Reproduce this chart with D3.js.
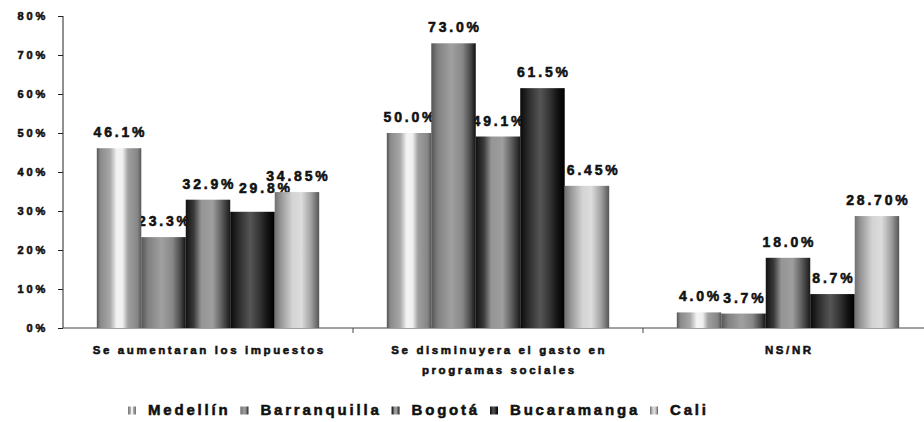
<!DOCTYPE html>
<html>
<head>
<meta charset="utf-8">
<script src="https://cdn.jsdelivr.net/npm/d3@7/dist/d3.min.js"></script>
<style>
  html, body { margin: 0; padding: 0; background: #fff; }
  svg { display: block; font-family: "Liberation Sans", Arial, sans-serif; font-weight: bold; }
  svg text { stroke: #111; stroke-width: 0.55px; }
</style>
</head>
<body>
<svg id="chart" width="924" height="422"></svg>
<script>
// ---- data ----
const categories = ["Se aumentaran los impuestos", "Se disminuyera el gasto en programas sociales", "NS/NR"];
const seriesNames = ["Medellín", "Barranquilla", "Bogotá", "Bucaramanga", "Cali"];
const medellin     = [46.1, 50.0, 4.0];
const barranquilla = [23.3, 73.0, 3.7];
const bogota       = [32.9, 49.1, 18.0];
const bucaramanga  = [29.8, 61.5, 8.7];
const cali         = [34.85, 36.45, 28.70];
const medellinLabels     = ["46.1%", "50.0%", "4.0%"];
const barranquillaLabels = ["23.3%", "73.0%", "3.7%"];
const bogotaLabels       = ["32.9%", "49.1%", "18.0%"];
const bucaramangaLabels  = ["29.8%", "61.5%", "8.7%"];
const caliLabels         = ["34.85%", "36.45%", "28.70%"];
const yTicks = [0, 10, 20, 30, 40, 50, 60, 70, 80];
const yTickLabels = ["0%", "10%", "20%", "30%", "40%", "50%", "60%", "70%", "80%"];

const seriesValues = [medellin, barranquilla, bogota, bucaramanga, cali];
const seriesLabels = [medellinLabels, barranquillaLabels, bogotaLabels, bucaramangaLabels, caliLabels];

// ---- layout / style ----
const svg = d3.select("#chart");
const plot = { left: 63, right: 933, top: 16, bottom: 328 };

// cylinder-like horizontal gradients (grayscale)
const gradStops = [
  [[0, "#555"], [0.08, "#8a8a8a"], [0.3, "#a8a8a8"], [0.45, "#f4f4f4"], [0.58, "#f0f0f0"], [0.7, "#a0a0a0"], [0.92, "#858585"], [1, "#555"]],
  [[0, "#555"], [0.15, "#808080"], [0.45, "#a0a0a0"], [0.7, "#888"], [0.88, "#4a4a4a"], [1, "#111"]],
  [[0, "#111"], [0.18, "#3a3a3a"], [0.35, "#959595"], [0.6, "#9e9e9e"], [0.8, "#606060"], [1, "#1a1a1a"]],
  [[0, "#0a0a0a"], [0.2, "#2e2e2e"], [0.45, "#555"], [0.65, "#363636"], [0.85, "#111"], [1, "#000"]],
  [[0, "#707070"], [0.15, "#9a9a9a"], [0.4, "#d4d4d4"], [0.6, "#dcdcdc"], [0.82, "#a0a0a0"], [1, "#555"]]
];
const defs = svg.append("defs");
gradStops.forEach((stops, i) => {
  const g = defs.append("linearGradient").attr("id", "g" + i)
    .attr("x1", "0").attr("x2", "1").attr("y1", "0").attr("y2", "0");
  stops.forEach(s => g.append("stop").attr("offset", s[0]).attr("stop-color", s[1]));
});

const x0 = d3.scaleBand().domain(categories).range([plot.left, plot.right]).paddingInner(0).paddingOuter(0);
const x1 = d3.scaleBand().domain(seriesNames).range([0, x0.bandwidth()]).paddingInner(0).paddingOuter(0.76);
const y = d3.scaleLinear().domain([0, 80]).range([plot.bottom, plot.top]);

// y axis
const yAxis = d3.axisLeft(y).tickValues(yTicks).tickSize(5).tickFormat((d, i) => yTickLabels[i]);
const gy = svg.append("g").attr("transform", `translate(${plot.left},0)`).call(yAxis);
gy.select(".domain").attr("stroke", "#222").attr("d", `M0,${plot.top}V${plot.bottom}`);
gy.selectAll(".tick line").attr("stroke", "#222");
gy.selectAll(".tick text")
  .attr("x", -15).attr("fill", "#111")
  .style("font-size", "11px").style("letter-spacing", "2.8px")
  .style("font-family", "'Liberation Sans', Arial, sans-serif").style("font-weight", "bold");

// x axis
const gx = svg.append("g").attr("transform", `translate(0,${plot.bottom})`);
gx.append("line").attr("x1", plot.left).attr("x2", 924).attr("y1", 0).attr("y2", 0).attr("stroke", "#444");
gx.selectAll("line.tk").data(categories.slice(1)).enter().append("line").attr("class", "tk")
  .attr("x1", d => x0(d)).attr("x2", d => x0(d)).attr("y1", 0).attr("y2", 5).attr("stroke", "#444");

// category labels with wrapping
const catG = gx.selectAll("text.cat").data(categories).enter().append("text").attr("class", "cat")
  .attr("text-anchor", "middle")
  .attr("fill", "#111")
  .style("font-size", "11.5px").style("letter-spacing", "2.6px");
catG.each(function (d) {
  const t = d3.select(this);
  const cx = x0(d) + x0.bandwidth() / 2 + 1.3;
  const words = d.split(" ");
  let line = [], lineNo = 0;
  let ts = t.append("tspan").attr("x", cx).attr("y", 26);
  words.forEach(w => {
    line.push(w);
    ts.text(line.join(" "));
    if (ts.node().getComputedTextLength() > 260 && line.length > 1) {
      line.pop();
      ts.text(line.join(" "));
      line = [w];
      lineNo++;
      ts = t.append("tspan").attr("x", cx).attr("y", 26 + lineNo * 20).text(w);
    }
  });
});

// data labels first (bars overlap them like in the original)
const labelNudge = { "0|3": [12, -8] };
const labelsG = svg.append("g");
seriesNames.forEach((s, si) => {
  labelsG.selectAll(null).data(categories).enter().append("text")
    .attr("x", (c, ci) => x0(c) + x1(s) + x1.bandwidth() / 2 + 1.4 + ((labelNudge[ci + "|" + si] || [0, 0])[0]))
    .attr("y", (c, ci) => y(seriesValues[si][ci]) - 11 + ((labelNudge[ci + "|" + si] || [0, 0])[1]))
    .attr("text-anchor", "middle")
    .attr("fill", "#111")
    .style("font-size", "14px").style("letter-spacing", "2.8px")
    .text((c, ci) => seriesLabels[si][ci]);
});

// bars
const barsG = svg.append("g");
seriesNames.forEach((s, si) => {
  barsG.selectAll(null).data(categories).enter().append("rect")
    .attr("x", c => x0(c) + x1(s))
    .attr("width", x1.bandwidth())
    .attr("y", (c, ci) => y(seriesValues[si][ci]))
    .attr("height", (c, ci) => y(0) - y(seriesValues[si][ci]))
    .attr("fill", `url(#g${si})`);
});

// legend
const lg = svg.append("g").attr("transform", "translate(128,415)");
let lx = 0;
seriesNames.forEach((s, si) => {
  lg.append("rect").attr("x", lx).attr("y", -8.5).attr("width", 8).attr("height", 8)
    .attr("fill", `url(#g${si})`);
  const t = lg.append("text").attr("x", lx + 20).attr("y", 0)
    .attr("fill", "#111")
    .style("font-size", "15px").style("letter-spacing", "2.8px")
    .text(s);
  lx += 20 + t.node().getComputedTextLength() + 10;
});
</script>
</body>
</html>
